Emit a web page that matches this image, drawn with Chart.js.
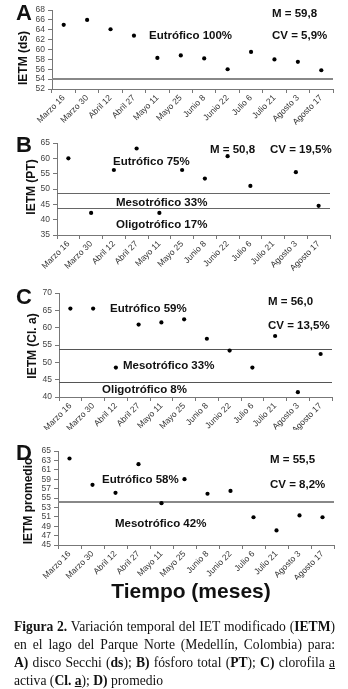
<!DOCTYPE html>
<html>
<head>
<meta charset="utf-8">
<script src="https://cdn.jsdelivr.net/npm/chart.js"></script>
<style>
  body { margin: 0; background: #fff; }
  #page { position: relative; width: 348px; height: 689px; overflow: hidden; font-family: "Liberation Sans", Arial, sans-serif; color: #111; }
  canvas { position: absolute; left: 0; }
  .lbl { position: absolute; font-weight: bold; font-size: 11.5px; line-height: 12px; white-space: nowrap; }
  .panel { position: absolute; font-weight: bold; font-size: 22px; line-height: 22px; left: 16px; }
  .ytitle { position: absolute; font-weight: bold; font-size: 12px; line-height: 12px; white-space: nowrap; transform: translate(-50%, -50%) rotate(-90deg); }
  .xtitle { position: absolute; font-weight: bold; font-size: 21px; line-height: 21px; left: 0; width: 382px; text-align: center; top: 580px; }
  .caption { position: absolute; left: 14px; width: 321px; top: 618px; font-family: "Liberation Serif", "Times New Roman", serif; font-size: 13.6px; line-height: 18px; color: #111; }
  .caption div { text-align: justify; text-align-last: justify; white-space: nowrap; }
  .caption div.last { text-align-last: left; }
</style>
</head>
<body>
<div id="page">
  <canvas id="chartA" width="348" height="125" style="top:0"></canvas>
  <canvas id="chartB" width="348" height="142" style="top:130px"></canvas>
  <canvas id="chartC" width="348" height="150" style="top:280px"></canvas>
  <canvas id="chartD" width="348" height="140" style="top:440px"></canvas>

  <div class="panel" style="top:2px">A</div>
  <div class="panel" style="top:134px">B</div>
  <div class="panel" style="top:286px">C</div>
  <div class="panel" style="top:442px">D</div>

  <div class="ytitle" style="left:23px;top:58px">IETM (ds)</div>
  <div class="ytitle" style="left:31px;top:187px">IETM (PT)</div>
  <div class="ytitle" style="left:32px;top:346px">IETM (Cl. a)</div>
  <div class="ytitle" style="left:28px;top:501px">IETM promedio</div>

  <div class="lbl" style="left:149px;top:29px">Eutrófico 100%</div>
  <div class="lbl" style="left:272px;top:7px">M = 59,8</div>
  <div class="lbl" style="left:272px;top:29px">CV = 5,9%</div>

  <div class="lbl" style="left:210px;top:143px">M = 50,8</div>
  <div class="lbl" style="left:270px;top:143px">CV = 19,5%</div>
  <div class="lbl" style="left:113px;top:155px">Eutrófico 75%</div>
  <div class="lbl" style="left:116px;top:196px">Mesotrófico 33%</div>
  <div class="lbl" style="left:116px;top:218px">Oligotrófico 17%</div>

  <div class="lbl" style="left:268px;top:295px">M = 56,0</div>
  <div class="lbl" style="left:268px;top:319px">CV = 13,5%</div>
  <div class="lbl" style="left:110px;top:302px">Eutrófico 59%</div>
  <div class="lbl" style="left:123px;top:359px">Mesotrófico 33%</div>
  <div class="lbl" style="left:102px;top:383px">Oligotrófico 8%</div>

  <div class="lbl" style="left:270px;top:453px">M = 55,5</div>
  <div class="lbl" style="left:270px;top:478px">CV = 8,2%</div>
  <div class="lbl" style="left:102px;top:473px">Eutrófico 58%</div>
  <div class="lbl" style="left:115px;top:517px">Mesotrófico 42%</div>

  <div class="xtitle">Tiempo (meses)</div>

  <div class="caption">
    <div><b>Figura 2.</b> Variación temporal del IET modificado (<b>IETM</b>)</div>
    <div>en el lago del Parque Norte (Medellín, Colombia) para:</div>
    <div><b>A)</b> disco Secchi (<b>ds</b>); <b>B)</b> fósforo total (<b>PT</b>); <b>C)</b> clorofila <u>a</u></div>
    <div class="last">activa (<b>Cl. <u>a</u></b>); <b>D)</b> promedio</div>
  </div>
</div>

<script>
// sampling dates (x categories)
const fechas = ['Marzo 16', 'Marzo 30', 'Abril 12', 'Abril 27', 'Mayo 11', 'Mayo 25',
                'Junio 8', 'Junio 22', 'Julio 6', 'Julio 21', 'Agosto 3', 'Agosto 17'];

// IETM values
const ietmDs   = [65.0, 66.0, 64.1, 62.8, 58.3, 58.8, 58.2, 56.0, 59.5, 58.0, 57.5, 55.8];
const ietmPt   = [60.0, 42.2, 56.2, 63.2, 42.2, 56.2, 53.4, 60.7, 51.0, null, 55.5, 44.5];
const ietmCl   = [65.5, 65.5, 48.5, 60.9, 61.5, 62.4, 56.8, 53.4, 48.5, 57.6, 41.4, 52.4];
const ietmProm = [63.4, 57.8, 56.1, 62.2, 53.9, 59.0, 55.9, 56.5, 50.9, 48.1, 51.3, 50.9];

// trophic state limits drawn as horizontal lines
const limitesDs   = [54.1];
const limitesPt   = [48.8, 43.7];
const limitesCl   = [53.8, 44.2];
const limitesProm = [54.2];

// y axis ranges [min, max, step]
const ejeDs   = [52, 68, 2];
const ejePt   = [35, 65, 5];
const ejeCl   = [40, 70, 5];
const ejeProm = [45, 65, 2];

Chart.defaults.font.family = '"Liberation Sans", Arial, sans-serif';

const thresholdLines = {
    id: 'thresholdLines',
    beforeDatasetsDraw(chart, args, opts) {
        const { ctx, chartArea, scales } = chart;
        ctx.save();
        ctx.strokeStyle = opts.color;
        ctx.lineWidth = opts.width;
        opts.values.forEach(v => {
            const py = Math.round(scales.y.getPixelForValue(v)) + (opts.width % 2 ? 0.5 : 0);
            ctx.beginPath();
            ctx.moveTo(chartArea.left, py);
            ctx.lineTo(chartArea.right, py);
            ctx.stroke();
        });
        ctx.restore();
    }
};

function drawPanel(id, values, eje, limites, box) {
    new Chart(document.getElementById(id), {
        type: 'line',
        data: {
            labels: fechas,
            datasets: [{
                data: values,
                showLine: false,
                pointRadius: 2.1,
                pointBackgroundColor: '#000',
                pointBorderWidth: 0,
                clip: false
            }]
        },
        options: {
            responsive: false,
            animation: false,
            devicePixelRatio: 1,
            layout: { padding: { top: box.top, right: box.right, left: 0, bottom: 0 } },
            plugins: {
                legend: { display: false },
                tooltip: { enabled: false },
                thresholdLines: { values: limites, color: box.lineColor, width: box.lineWidth }
            },
            scales: {
                x: {
                    type: 'category',
                    offset: true,
                    grid: { offset: true, drawOnChartArea: false, tickLength: 4, color: '#777' },
                    border: { color: '#777' },
                    ticks: { autoSkip: false, minRotation: 45, maxRotation: 45, padding: 0,
                             font: { size: 8.5 }, color: '#333' },
                    afterFit: s => { s.height = box.xh; }
                },
                y: {
                    min: eje[0], max: eje[1],
                    grid: { drawOnChartArea: false, tickLength: 4, color: '#777' },
                    border: { color: '#777' },
                    ticks: { stepSize: eje[2], autoSkip: false, padding: 3,
                             font: { size: 8.5 }, color: '#444' },
                    afterFit: s => { s.width = box.yw; }
                }
            }
        },
        plugins: [thresholdLines]
    });
}

drawPanel('chartA', ietmDs, ejeDs, limitesDs,
    { top: 10, right: 15, yw: 52, xh: 36, lineColor: '#888', lineWidth: 2 });
drawPanel('chartB', ietmPt, ejePt, limitesPt,
    { top: 13, right: 18, yw: 57, xh: 37, lineColor: '#666', lineWidth: 1 });
drawPanel('chartC', ietmCl, ejeCl, limitesCl,
    { top: 13, right: 16, yw: 59, xh: 33, lineColor: '#555', lineWidth: 1 });
drawPanel('chartD', ietmProm, ejeProm, limitesProm,
    { top: 11, right: 14, yw: 58, xh: 35, lineColor: '#888', lineWidth: 2 });
</script>
</body>
</html>
